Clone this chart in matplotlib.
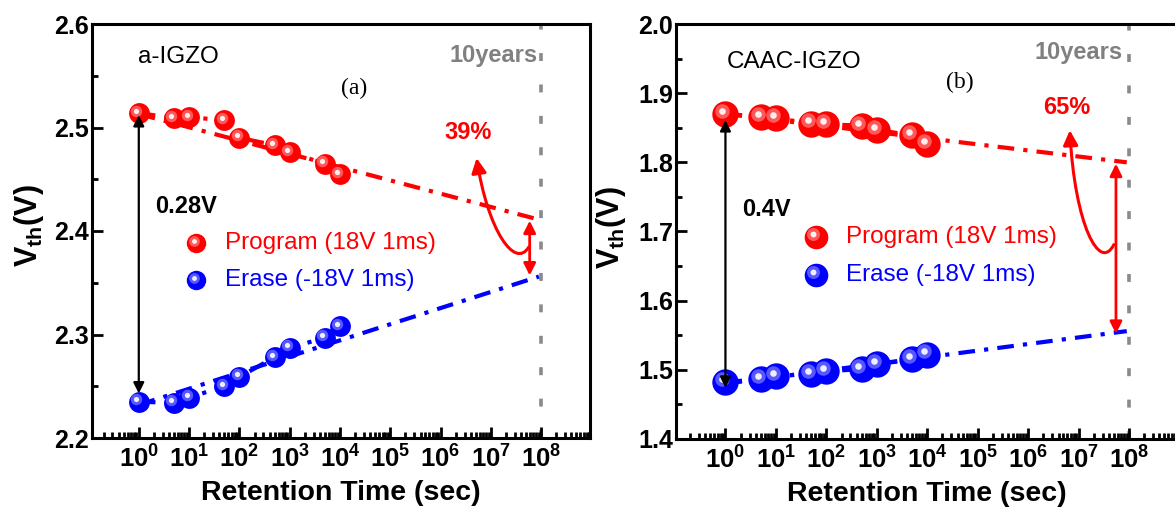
import numpy as np
import matplotlib
matplotlib.use('Agg')
import matplotlib.pyplot as plt
from matplotlib.ticker import LogLocator, FixedLocator, MultipleLocator, FuncFormatter, NullFormatter
from matplotlib.transforms import offset_copy
from matplotlib.patches import FancyArrowPatch
from matplotlib.path import Path

plt.rcParams['font.family'] = ['Liberation Sans', 'DejaVu Sans']
plt.rcParams['mathtext.fontset'] = 'custom'
plt.rcParams['mathtext.rm'] = 'Liberation Sans:bold'
plt.rcParams['mathtext.bf'] = 'Liberation Sans:bold'
plt.rcParams['mathtext.it'] = 'Liberation Sans:bold'

# retention times (sec)
t = [1, 5, 10, 50, 100, 500, 1000, 5000, 10000]
fit_t = [1, 9e7]
ten_years = 1e8
decades = [10.0**k for k in range(0, 9)]

# (a) a-IGZO
prog_a = [2.514, 2.509, 2.510, 2.507, 2.490, 2.483, 2.476, 2.465, 2.455]
erase_a = [2.235, 2.234, 2.239, 2.250, 2.259, 2.278, 2.287, 2.297, 2.308]
prog_fit_a = [2.513, 2.411]
erase_fit_a = [2.232, 2.356]

# (b) CAAC-IGZO
prog_b = [1.870, 1.866, 1.864, 1.856, 1.855, 1.853, 1.847, 1.839, 1.826]
erase_b = [1.482, 1.487, 1.491, 1.494, 1.498, 1.501, 1.508, 1.515, 1.522]
prog_fit_b = [1.870, 1.800]
erase_fit_b = [1.480, 1.556]

fig = plt.figure(figsize=(11.75, 5.09), dpi=100)
ax1 = fig.add_axes([92/1175, 71/509, 498/1175, 414/509])
ax2 = fig.add_axes([676/1175, 70/509, 502/1175, 415/509])


def spheres(ax, x, y, color, ms, transform=None):
    base = ax.transData if transform is None else transform
    ax.plot(x, y, 'o', ms=ms, color=color, mec=color, mew=0, transform=base, zorder=3, clip_on=False)
    hl = offset_copy(base, fig=fig, x=-ms*0.12, y=ms*0.12, units='points')
    ax.plot(x, y, 'o', ms=ms*0.55, color='white', alpha=0.35, mew=0, transform=hl, zorder=4, clip_on=False)
    ax.plot(x, y, 'o', ms=ms*0.25, color='white', alpha=0.9, mew=0, transform=hl, zorder=5, clip_on=False)


def curved(ax, pts):
    p = Path(pts, [Path.MOVETO, Path.CURVE4, Path.CURVE4, Path.CURVE4])
    arr = FancyArrowPatch(path=p, arrowstyle='-|>', mutation_scale=22, color='red', lw=2.2)
    ax.add_patch(arr)


def style(ax, ylo, yhi, xlo):
    ax.set_xscale('log')
    ax.set_xlim(10**xlo, 10**8.97)
    ax.set_ylim(ylo, yhi)
    ax.xaxis.set_major_locator(FixedLocator(decades))
    ax.xaxis.set_minor_locator(LogLocator(base=10, subs=np.arange(2, 10), numticks=20))
    ax.xaxis.set_minor_formatter(NullFormatter())
    ax.xaxis.set_major_formatter(FuncFormatter(lambda v, p: r'$\mathbf{10^{%d}}$' % round(np.log10(v))))
    ax.yaxis.set_major_locator(MultipleLocator(0.1))
    ax.yaxis.set_minor_locator(MultipleLocator(0.05))
    ax.yaxis.set_major_formatter(FuncFormatter(lambda v, p: '%.1f' % v))
    ax.tick_params(which='both', direction='in', width=2, top=False, right=False)
    ax.tick_params(which='major', length=8)
    ax.tick_params(which='minor', length=4)
    ax.tick_params(axis='y', pad=2, labelsize=18)
    ax.tick_params(axis='x', pad=5, labelsize=18.5)
    for lab in ax.get_yticklabels():
        lab.set_fontweight('bold')
    for s in ax.spines.values():
        s.set_linewidth(2.2)
    ax.set_xlabel('Retention Time (sec)', fontsize=20.5, fontweight='bold', labelpad=6)
    ax.set_ylabel(r'$\mathbf{V_{th}}$(V)', fontsize=22, fontweight='bold')


panels = [
    (ax1, prog_a, erase_a, prog_fit_a, erase_fit_a, 2.2, 2.6, -0.93, 15,
     'a-IGZO', '(a)', '39%', '0.28V'),
    (ax2, prog_b, erase_b, prog_fit_b, erase_fit_b, 1.4, 2.0, -0.98, 19,
     'CAAC-IGZO', '(b)', '65%', '0.4V'),
]

for ax, pg, er, pf, ef, ylo, yhi, xlo, ms, name, tag, pct, win in panels:
    style(ax, ylo, yhi, xlo)
    ax.axvline(ten_years, color='#8a8a8a', lw=2.6, ls=(0, (2.2, 6.5)), zorder=1)
    ax.plot(fit_t, pf, color='red', lw=3, ls=(0, (4, 2.2, 1, 2.2)), zorder=2)
    ax.plot(fit_t, ef, color='blue', lw=3, ls=(0, (4, 2.2, 1, 2.2)), zorder=2)
    ax.plot(t, pg, color='red', lw=3, ls=(0, (4, 2.2, 1, 2.2)), zorder=2)
    ax.plot(t, er, color='blue', lw=3, ls=(0, (4, 2.2, 1, 2.2)), zorder=2)
    spheres(ax, t, pg, 'red', ms)
    spheres(ax, t, er, 'blue', ms)

ax1.yaxis.set_label_coords(-0.092, 0.514)
ax2.yaxis.set_label_coords(-0.096, 0.51)

# window arrows at t = 1 s
ax1.annotate('', xy=(1, 2.512), xytext=(1, 2.243),
             arrowprops=dict(arrowstyle='<|-|>', color='black', lw=1.6, mutation_scale=16, shrinkA=0, shrinkB=0), zorder=6)
ax2.annotate('', xy=(1, 1.861), xytext=(1, 1.474),
             arrowprops=dict(arrowstyle='<|-|>', color='black', lw=1.6, mutation_scale=16, shrinkA=0, shrinkB=0), zorder=6)

# window arrows at 10 years
ax1.annotate('', xy=(5.9e7, 2.410), xytext=(5.9e7, 2.357),
             arrowprops=dict(arrowstyle='<|-|>', color='red', lw=2, mutation_scale=18, shrinkA=0, shrinkB=0))
ax2.annotate('', xy=(5.5e7, 1.798), xytext=(5.5e7, 1.552),
             arrowprops=dict(arrowstyle='<|-|>', color='red', lw=2, mutation_scale=18, shrinkA=0, shrinkB=0))

curved(ax1, [(5.66e7, 2.3845), (2.99e7, 2.3623), (8.67e6, 2.401), (5.2e6, 2.4705)])
curved(ax2, [(4.99e7, 1.681), (2.63e7, 1.6406), (8.4e6, 1.7087), (6.7e6, 1.8464)])

# texts
txt = [
    (ax1, 0.092, 0.920, 0.894, 0.925, 0.526, 0.845, 0.755, 0.739, 0.1265, 0.558),
    (ax2, 0.1016, 0.908, 0.890, 0.9325, 0.566, 0.860, 0.779, 0.800, 0.131, 0.552),
]
for (ax, nx, ny, yx, yy, tx, ty, px, py, wx, wy), p in zip(txt, panels):
    ax.text(nx, ny, p[9], transform=ax.transAxes, fontsize=17.5, va='center', ha='left')
    ax.text(yx, yy, '10years', transform=ax.transAxes, fontsize=17, fontweight='bold',
            color='#808080', va='center', ha='right')
    ax.text(tx, ty, p[10], transform=ax.transAxes, fontsize=17, family='Liberation Serif',
            va='center', ha='center')
    ax.text(px, py, p[11], transform=ax.transAxes, fontsize=17, fontweight='bold',
            color='red', va='center', ha='center')
    ax.text(wx, wy, p[12], transform=ax.transAxes, fontsize=17, fontweight='bold',
            va='center', ha='left')

# legends
leg = [(ax1, 0.209, 0.471, 0.382, 0.267, 14), (ax2, 0.279, 0.487, 0.395, 0.339, 17)]
for ax, mx, y1, y2, lx, lms in leg:
    spheres(ax, [mx], [y1], 'red', lms, transform=ax.transAxes)
    spheres(ax, [mx], [y2], 'blue', lms, transform=ax.transAxes)
    ax.text(lx, y1, 'Program (18V 1ms)', transform=ax.transAxes, fontsize=17.5, color='red', va='center')
    ax.text(lx, y2, 'Erase (-18V 1ms)', transform=ax.transAxes, fontsize=17.5, color='blue', va='center')

fig.savefig('out.png', dpi=100)
